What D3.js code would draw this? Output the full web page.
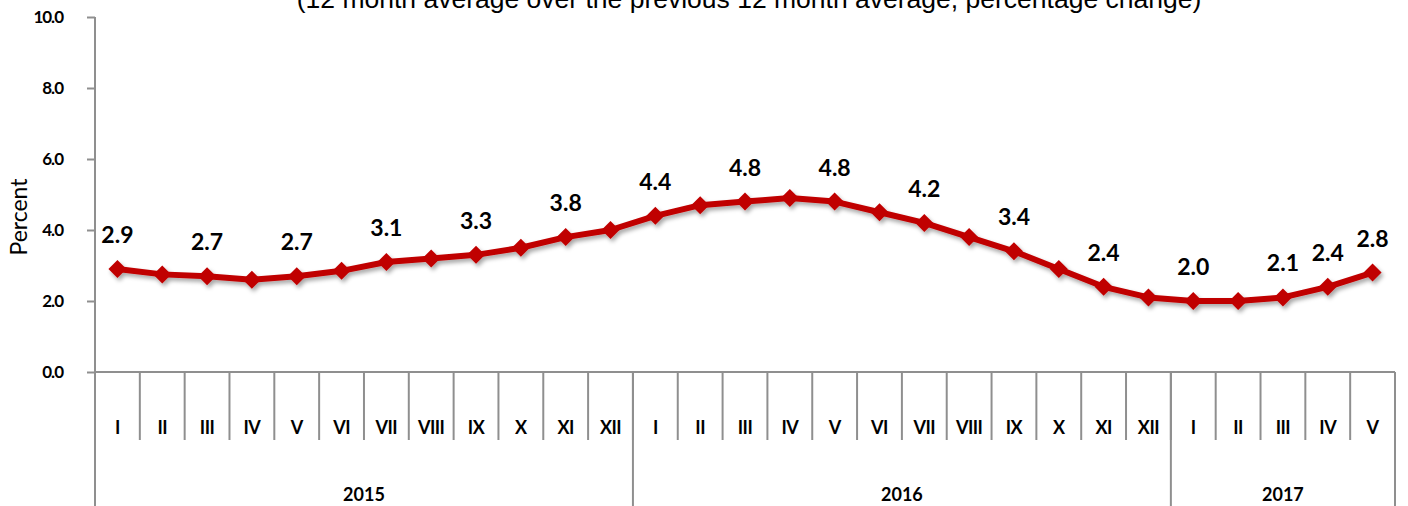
<!DOCTYPE html>
<html lang="en">
<head>
    <meta charset="UTF-8">
    <title>12 month average, percentage change</title>
    <script src="https://d3js.org/d3.v7.min.js"></script>
    <style>
        body, html {
            margin: 0;
            padding: 0;
            width: 100%;
            height: 100%;
            overflow: hidden;
            background: #fff;
        }
        svg text { font-family: Lato, "Open Sans", sans-serif; fill: #000; }
        .title { font-family: "Liberation Sans", Arial, sans-serif !important; }
    </style>
</head>
<body>
    <div id="chart"></div>
    <script>
        // chart data
        var months = ["I","II","III","IV","V","VI","VII","VIII","IX","X","XI","XII",
                      "I","II","III","IV","V","VI","VII","VIII","IX","X","XI","XII",
                      "I","II","III","IV","V"];
        var years = ["2015", "2016", "2017"];
        var yearSpan = [12, 12, 5];
        var values = [2.9, 2.75, 2.7, 2.6, 2.7, 2.85, 3.1, 3.2, 3.3, 3.5, 3.8, 4.0,
                      4.4, 4.7, 4.8, 4.9, 4.8, 4.5, 4.2, 3.8, 3.4, 2.9, 2.4, 2.1,
                      2.0, 2.0, 2.1, 2.4, 2.8];
        var labelIdx = [0, 2, 4, 6, 8, 10, 12, 14, 16, 18, 20, 22, 24, 26, 27, 28];
        var yTicks = [0, 2, 4, 6, 8, 10];
        var titleText = "(12 month average over the previous 12 month average, percentage change)";

        var W = 1408, H = 506;
        var plotLeft = 95, plotRight = 1395, plotTop = 17, plotBottom = 372;

        var svg = d3.select("#chart").append("svg")
            .attr("width", W)
            .attr("height", H);

        // shadow under the line
        var defs = svg.append("defs");
        defs.append("filter").attr("id", "shadow")
            .attr("x", "-10%").attr("y", "-30%").attr("width", "120%").attr("height", "160%")
            .append("feDropShadow")
            .attr("dx", 2).attr("dy", 3).attr("stdDeviation", 2)
            .attr("flood-color", "#000").attr("flood-opacity", 0.35);

        var x = d3.scaleBand()
            .domain(d3.range(months.length))
            .range([plotLeft, plotRight])
            .padding(0);

        var y = d3.scaleLinear()
            .domain([0, 10])
            .range([plotBottom, plotTop]);

        var axisColor = "#8f8f8f";

        // title (cut at the top like the original)
        svg.append("text")
            .attr("class", "title")
            .attr("x", 749)
            .attr("y", 8)
            .attr("text-anchor", "middle")
            .style("font-size", "26.5px")
            .text(titleText);

        // y axis
        var yAxis = svg.append("g")
            .attr("transform", "translate(" + plotLeft + ",0)")
            .call(d3.axisLeft(y).tickValues(yTicks).tickFormat(d3.format(".1f")).tickSize(8).tickPadding(24));
        yAxis.select(".domain").remove();
        yAxis.selectAll("line").attr("stroke", axisColor).attr("stroke-width", 2);
        yAxis.attr("font-family", null).attr("font-size", null);
        yAxis.selectAll("text")
            .style("font-size", "17px")
            .style("font-weight", "bold")
            .style("letter-spacing", "-1px");

        svg.append("line")
            .attr("x1", plotLeft).attr("x2", plotLeft)
            .attr("y1", plotTop).attr("y2", H)
            .attr("stroke", axisColor).attr("stroke-width", 2);

        // x axis line
        svg.append("line")
            .attr("x1", plotLeft).attr("x2", plotRight)
            .attr("y1", plotBottom).attr("y2", plotBottom)
            .attr("stroke", axisColor).attr("stroke-width", 2);

        // month dividers
        svg.append("g").selectAll("line")
            .data(d3.range(1, months.length))
            .enter().append("line")
            .attr("x1", d => x(d)).attr("x2", d => x(d))
            .attr("y1", plotBottom).attr("y2", 440)
            .attr("stroke", axisColor).attr("stroke-width", 2);

        // year dividers
        var yearStart = [0];
        yearSpan.forEach((s, i) => yearStart.push(yearStart[i] + s));
        var xEdge = i => i < months.length ? x(i) : plotRight;
        svg.append("g").selectAll("line")
            .data(yearStart.slice(1))
            .enter().append("line")
            .attr("x1", d => xEdge(d))
            .attr("x2", d => xEdge(d))
            .attr("y1", plotBottom).attr("y2", H)
            .attr("stroke", axisColor).attr("stroke-width", 2);

        // month labels
        svg.append("g").selectAll("text")
            .data(months)
            .enter().append("text")
            .attr("x", (d, i) => x(i) + x.bandwidth() / 2)
            .attr("y", 434)
            .attr("text-anchor", "middle")
            .style("font-size", "18px")
            .style("font-weight", "bold")
            .style("letter-spacing", "-0.5px")
            .text(d => d);

        // year labels
        svg.append("g").selectAll("text")
            .data(years)
            .enter().append("text")
            .attr("x", (d, i) => (xEdge(yearStart[i]) + xEdge(yearStart[i + 1])) / 2)
            .attr("y", 501)
            .attr("text-anchor", "middle")
            .style("font-size", "18px")
            .style("font-weight", "bold")
            .text(d => d);

        // y axis title
        svg.append("text")
            .attr("transform", "translate(27,217) rotate(-90)")
            .attr("text-anchor", "middle")
            .style("font-size", "23px")
            .text("Percent");

        // series
        var cx = i => x(i) + x.bandwidth() / 2;
        var line = d3.line()
            .x((d, i) => cx(i))
            .y(d => y(d));

        var series = svg.append("g").attr("filter", "url(#shadow)");
        series.append("path")
            .datum(values)
            .attr("d", line)
            .attr("fill", "none")
            .attr("stroke", "#c00000")
            .attr("stroke-width", 6)
            .attr("stroke-linejoin", "round");

        var r = 9;
        series.selectAll(".marker")
            .data(values)
            .enter().append("path")
            .attr("class", "marker")
            .attr("d", "M0," + (-r) + "L" + r + ",0L0," + r + "L" + (-r) + ",0Z")
            .attr("transform", (d, i) => "translate(" + cx(i) + "," + y(d) + ")")
            .attr("fill", "#c00000");

        // data labels
        svg.append("g").selectAll("text")
            .data(labelIdx)
            .enter().append("text")
            .attr("x", d => cx(d))
            .attr("y", d => y(values[d]) - 26)
            .attr("text-anchor", "middle")
            .style("font-size", "23px")
            .style("font-weight", "bold")
            .text(d => d3.format(".1f")(values[d]));
    </script>
</body>
</html>
